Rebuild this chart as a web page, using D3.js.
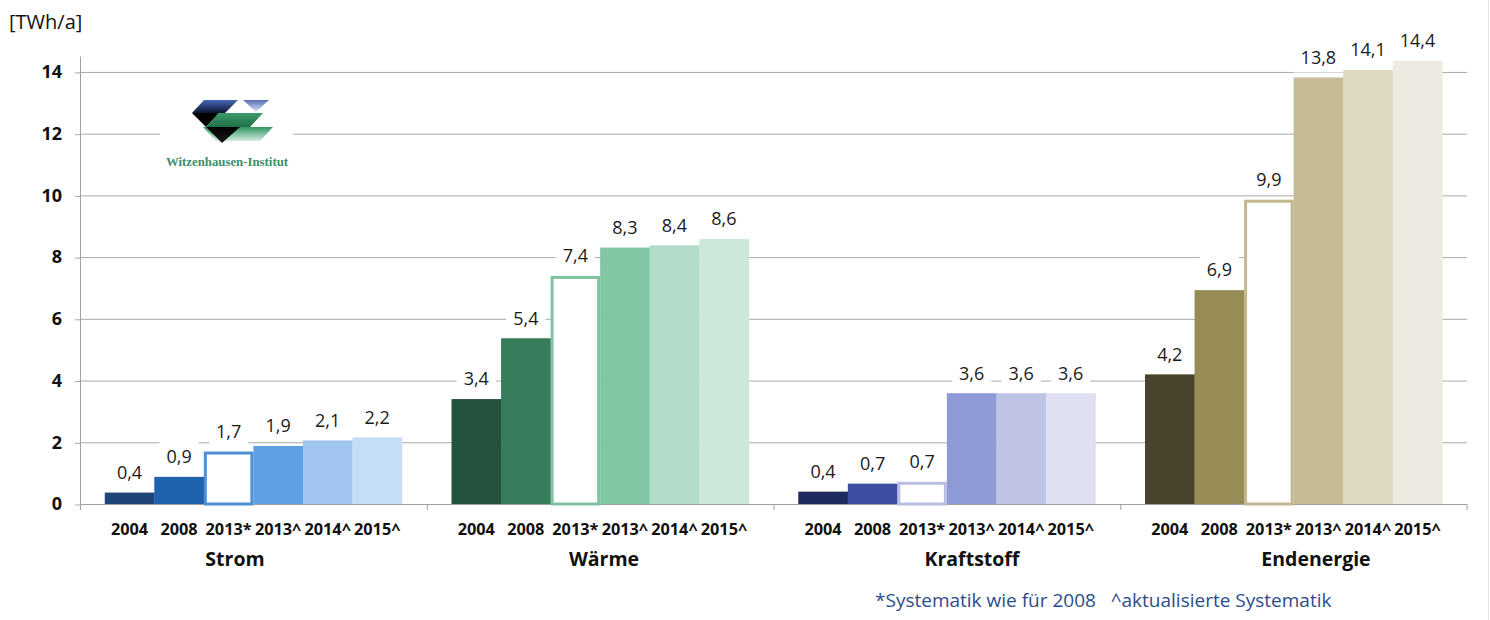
<!DOCTYPE html>
<html>
<head>
<meta charset="utf-8">
<script src="https://cdn.jsdelivr.net/npm/d3@7"></script>
<style>
  body { margin: 0; background: #fff; }
  svg { display: block; font-family: "Open Sans", sans-serif; }
</style>
</head>
<body>
<svg id="chart" width="1490" height="620"></svg>
<script>
var categories = ["Strom", "Wärme", "Kraftstoff", "Endenergie"];
var years = ["2004", "2008", "2013*", "2013^", "2014^", "2015^"];

var strom      = [0.37, 0.88, 1.70, 1.88, 2.06, 2.16];
var waerme     = [3.40, 5.37, 7.39, 8.31, 8.38, 8.59];
var kraftstoff = [0.40, 0.66, 0.72, 3.59, 3.59, 3.59];
var endenergie = [4.20, 6.93, 9.86, 13.82, 14.06, 14.36];

var yTicks = [0, 2, 4, 6, 8, 10, 12, 14];

var seriesList = [strom, waerme, kraftstoff, endenergie];

// colours per category, one per year (2013* is drawn hollow with that colour)
var palette = [
  ["#1f4478", "#1f62ad", "#4f8fd4", "#5d9fe2", "#a0c5ef", "#c6ddf6"],
  ["#25523d", "#377c5b", "#7fc3a0", "#82c7a4", "#b2dcc8", "#cde7db"],
  ["#1f2a5e", "#3e4fa1", "#b9bee2", "#8d9ad5", "#bfc4e7", "#dfe1f3"],
  ["#4a432b", "#978b56", "#c2b88f", "#c5bb95", "#ddd8c1", "#edebe1"]
];

// manual positions of the category captions (text boxes in the original)
var catLabelX = [235, 604, 972, 1316];

var svg = d3.select("#chart");
var fmt = d3.formatLocale({decimal: ",", thousands: ".", grouping: [3], currency: ["", "€"]}).format(".1f");

var x0 = d3.scaleBand().domain(categories).range([80, 1467]).paddingInner(0).paddingOuter(0);
var x1 = d3.scaleBand().domain(years).range([0, x0.bandwidth()]).paddingInner(0).paddingOuter(0.5);
var y = d3.scaleLinear().domain([0, 14.5]).range([504, 56.5]);

// right border of the chart area
svg.append("line")
  .attr("x1", 1488.5).attr("x2", 1488.5)
  .attr("y1", 0).attr("y2", 620)
  .attr("stroke", "#e4e4e4");

// gridlines
svg.append("g").selectAll("line")
  .data(yTicks.filter(function(d){ return d > 0; }))
  .enter()
  .append("line")
  .attr("x1", 80).attr("x2", 1467)
  .attr("y1", function(d){ return y(d) + 0.5; })
  .attr("y2", function(d){ return y(d) + 0.5; })
  .attr("stroke", "#a9a9a9")
  .attr("stroke-width", 1);

// y axis
var yAxis = svg.append("g")
  .attr("transform", "translate(80,0)")
  .call(d3.axisLeft(y).tickValues(yTicks).tickSize(5).tickPadding(13).tickFormat(d3.format("d")));
yAxis.select(".domain").remove();
yAxis.selectAll(".tick line").attr("stroke", "#a9a9a9").attr("transform", "translate(0,0.5)");
yAxis.selectAll(".tick text")
  .attr("font-family", "Open Sans")
  .attr("font-size", 18)
  .attr("font-weight", "bold")
  .attr("fill", "#111");

svg.append("line")
  .attr("x1", 80.5).attr("x2", 80.5)
  .attr("y1", 56.5).attr("y2", 510)
  .attr("stroke", "#a0a0a0");

// baseline + category separators
svg.append("line")
  .attr("x1", 80).attr("x2", 1467)
  .attr("y1", 504.5).attr("y2", 504.5)
  .attr("stroke", "#a0a0a0");

svg.append("g").selectAll("line")
  .data(categories.slice(1).concat(["end"]))
  .enter()
  .append("line")
  .attr("x1", function(d){ return d == "end" ? 1467 : x0(d) + 0.5; })
  .attr("x2", function(d){ return d == "end" ? 1467 : x0(d) + 0.5; })
  .attr("y1", 504).attr("y2", 510)
  .attr("stroke", "#a0a0a0");

// logo
var logo = svg.append("g").attr("class", "logo");
var defs = svg.append("defs");
function grad(id, c1, c2){
  var g = defs.append("linearGradient").attr("id", id)
    .attr("x1", 0).attr("y1", 0).attr("x2", 0).attr("y2", 1);
  g.append("stop").attr("offset", "0%").attr("stop-color", c1);
  g.append("stop").attr("offset", "100%").attr("stop-color", c2);
}
grad("gBlue", "#4a68b8", "#0d1530");
grad("gBlueR", "#5670b6", "#dfe5f3");
grad("gGreen", "#3f9a6c", "#1f7048");
grad("gLight", "#2f9462", "#d4ecdf");
grad("gBlack", "#000000", "#1a1a1a");

logo.append("rect")
  .attr("x", 160).attr("y", 96).attr("width", 133).attr("height", 76)
  .attr("fill", "#fff");

var logoShapes = [
  {pts: [[203,127],[273,127],[260,141],[216,141]], fill: "url(#gLight)"},
  {pts: [[204,100],[238,100],[225,113],[192,113]], fill: "url(#gBlue)"},
  {pts: [[243,100],[269,100],[256,112]], fill: "url(#gBlueR)"},
  {pts: [[192,113],[219,113],[206,127]], fill: "#000"},
  {pts: [[219,113],[263,113],[250,127],[206,127]], fill: "url(#gGreen)"},
  {pts: [[206,127],[240,127],[222,143]], fill: "url(#gBlack)"}
];
logo.selectAll("polygon")
  .data(logoShapes)
  .enter()
  .append("polygon")
  .attr("points", function(d){ return d.pts.map(function(p){ return p.join(","); }).join(" "); })
  .attr("fill", function(d){ return d.fill; });

logo.append("text")
  .attr("x", 227).attr("y", 166)
  .attr("text-anchor", "middle")
  .attr("font-family", "Liberation Serif")
  .attr("font-weight", "bold")
  .attr("font-size", 12.8)
  .attr("fill", "#3b8f6d")
  .text("Witzenhausen-Institut");

// bars per category
var groups = svg.append("g").selectAll("g")
  .data(categories)
  .enter()
  .append("g")
  .attr("transform", function(d){ return "translate(" + x0(d) + ",0)"; });

groups.selectAll("rect")
  .data(function(d, i){
    return seriesList[i].map(function(v, j){ return {cat: i, year: years[j], j: j, v: v}; });
  })
  .enter()
  .append("rect")
  .attr("x", function(d){ return d.j == 2 ? x1(d.year) + 1.5 : x1(d.year); })
  .attr("width", function(d){ return d.j == 2 ? x1.bandwidth() - 3 : x1.bandwidth() + 0.3; })
  .attr("y", function(d){ return d.j == 2 ? y(d.v) + 1.5 : y(d.v); })
  .attr("height", function(d){ return d.j == 2 ? y(0) - y(d.v) - 1.5 : y(0) - y(d.v); })
  .attr("fill", function(d){ return d.j == 2 ? "#fff" : palette[d.cat][d.j]; })
  .attr("stroke", function(d){ return d.j == 2 ? palette[d.cat][d.j] : "none"; })
  .attr("stroke-width", 3);

// year labels with an axis per category
groups.each(function(d){
  var ax = d3.select(this).append("g")
    .attr("transform", "translate(0,504)")
    .call(d3.axisBottom(x1).tickSize(0).tickPadding(19));
  ax.select(".domain").remove();
  ax.selectAll("text")
    .attr("font-family", "Open Sans")
    .attr("font-size", 16.3)
    .attr("font-weight", "bold")
    .attr("fill", "#111");
});

// data labels with white boxes
groups.each(function(d, i){
  var g = d3.select(this);
  seriesList[i].forEach(function(v, j){
    var lg = g.append("g");
    var t = lg.append("text")
      .attr("x", x1(years[j]) + x1.bandwidth() / 2)
      .attr("y", y(v) - 20)
      .attr("dy", "0.35em")
      .attr("text-anchor", "middle")
      .attr("font-family", "Open Sans")
      .attr("font-size", 18)
      .attr("fill", "#1a1a1a")
      .text(fmt(v));
    var bb = t.node().getBBox();
    lg.insert("rect", "text")
      .attr("x", bb.x - 7).attr("y", y(v) - 36)
      .attr("width", bb.width + 14).attr("height", 31)
      .attr("fill", "#fff");
  });
});

// category captions
svg.append("g").selectAll("text")
  .data(categories)
  .enter()
  .append("text")
  .attr("x", function(d, i){ return catLabelX[i]; })
  .attr("y", 559)
  .attr("dy", "0.35em")
  .attr("text-anchor", "middle")
  .attr("font-family", "Open Sans")
  .attr("font-size", 19.5)
  .attr("font-weight", "bold")
  .attr("fill", "#111")
  .text(function(d){ return d; });

// unit
svg.append("text")
  .attr("x", 9).attr("y", 22)
  .attr("dy", "0.35em")
  .attr("font-family", "Open Sans")
  .attr("font-size", 20)
  .attr("fill", "#111")
  .text("[TWh/a]");

// footnote
svg.append("text")
  .attr("x", 875).attr("y", 600)
  .attr("dy", "0.35em")
  .attr("font-family", "Open Sans")
  .attr("font-size", 19)
  .attr("fill", "#2d4c8c")
  .attr("xml:space", "preserve")
  .text("*Systematik wie für 2008   ^aktualisierte Systematik");
</script>
</body>
</html>
